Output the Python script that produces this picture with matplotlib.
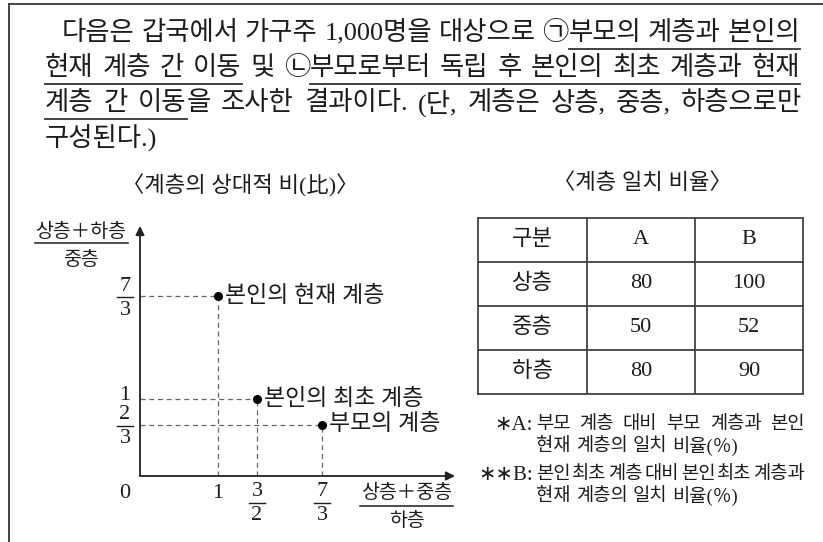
import matplotlib
matplotlib.use("Agg")
import matplotlib.pyplot as plt
from matplotlib.lines import Line2D
from matplotlib.transforms import IdentityTransform

plt.rcParams['font.family'] = ['Liberation Serif', 'Noto Sans CJK KR', 'DejaVu Sans']

# --- data -------------------------------------------------------------
intro_lines = [
    "다음은 갑국에서 가구주 1,000명을 대상으로 ㉠[부모의 계층과 본인의]",
    "[현재 계층 간 이동] 및 ㉡[부모로부터 독립 후 본인의 최초 계층과 현재]",
    "[계층 간 이동]을 조사한 결과이다. (단, 계층은 상층, 중층, 하층으로만",
    "구성된다.)",
]
chart_title = "〈계층의 상대적 비(比)〉"
table_title = "〈계층 일치 비율〉"

point_labels = ["본인의 현재 계층", "본인의 최초 계층", "부모의 계층"]
point_x = [1, 3 / 2, 7 / 3]
point_y = [7 / 3, 1, 2 / 3]
x_tick_labels = ["1", "3/2", "7/3"]
y_tick_labels = ["7/3", "1", "2/3"]
x_axis_label = ("상층＋중층", "하층")
y_axis_label = ("상층＋하층", "중층")

table_header = ["구분", "A", "B"]
table_rows = ["상층", "중층", "하층"]
table_a = [80, 50, 80]
table_b = [100, 52, 90]

notes = [
    ("∗A:", "부모 계층 대비 부모 계층과 본인", "현재 계층의 일치 비율(％)"),
    ("∗∗B:", "본인 최초 계층 대비 본인 최초 계층과", "현재 계층의 일치 비율(％)"),
]

# --- figure -------------------------------------------------------------
W, H = 823, 542
fig = plt.figure(figsize=(W / 100, H / 100), dpi=100)
fig.patch.set_facecolor("white")
renderer = fig.canvas.get_renderer()
IDT = IdentityTransform()
INK = "#1c1c1c"


def P(x, y):
    # top-left pixel -> display coordinates
    return x, H - y


def text(x, y, s, size, ha="center", va="center", **kw):
    return fig.text(*P(x, y), s, fontsize=size, ha=ha, va=va,
                    color=INK, transform=IDT, **kw)


def hline(x0, x1, y, lw=1.0, color=INK, **kw):
    fig.add_artist(Line2D([x0, x1], [H - y, H - y], lw=lw, color=color,
                          transform=IDT, **kw))


def vline(x, y0, y1, lw=1.0, color=INK, **kw):
    fig.add_artist(Line2D([x, x], [H - y0, H - y1], lw=lw, color=color,
                          transform=IDT, **kw))


def parse(line):
    words, on = [], False
    for w in line.split(" "):
        segs, buf = [], ""
        for ch in w:
            if ch in "[]":
                if buf:
                    segs.append((buf, on))
                    buf = ""
                on = ch == "["
            else:
                buf += ch
        if buf:
            segs.append((buf, on))
        words.append(segs)
    return words


def put_line(line, y, x0, x1, size, justify=True, ul_offset=16):
    words = parse(line)
    arts = []
    for segs in words:
        row = []
        for s, ul in segs:
            t = text(0, y, s, size, ha="left")
            row.append((t, t.get_window_extent(renderer).width, ul))
        arts.append(row)
    widths = [sum(w for _, w, _ in row) for row in arts]
    if justify and len(arts) > 1:
        gap = (x1 - x0 - sum(widths)) / (len(arts) - 1)
    else:
        gap = size * 0.35
    x = x0
    runs, cur = [], None
    for row, wd in zip(arts, widths):
        for t, w, ul in row:
            t.set_position(P(x, y))
            if ul:
                if cur is None:
                    cur = [x, x + w]
                else:
                    cur[1] = x + w
            elif cur is not None:
                runs.append(cur)
                cur = None
            x += w
        x += gap
    if cur is not None:
        runs.append(cur)
    for a, b in runs:
        hline(a, b, y + ul_offset, lw=1.3, color="#333333")


def fraction(xc, yc, num, den, size, bar_w):
    text(xc, yc - 11, num, size)
    text(xc, yc + 13, den, size)
    hline(xc - bar_w / 2, xc + bar_w / 2, yc, lw=1.0)


# frame
hline(9, W, 4, lw=1.4, color="#444444")
vline(9, 4, H, lw=1.4, color="#444444")

# intro paragraph
line_y = [33, 68, 103, 138]
put_line(intro_lines[0], line_y[0], 62, 800, 19)
put_line(intro_lines[1], line_y[1], 45, 800, 19)
put_line(intro_lines[2], line_y[2], 45, 802, 19)
put_line(intro_lines[3], line_y[3], 45, 802, 19, justify=False)

text(240, 186, chart_title, 16)
text(642, 184, table_title, 16)

# --- chart ----------------------------------------------------------------
ox, oy = 140, 476
x_end, y_end = 455, 226
ux, uy = 78, 77
ax = fig.add_axes([ox / W, (H - oy) / H, (x_end - ox) / W, (oy - y_end) / H])
ax.set_xlim(0, (x_end - ox) / ux)
ax.set_ylim(0, (oy - y_end) / uy)
ax.axis("off")
ax.annotate("", xy=(1, 0), xytext=(0, 0), xycoords="axes fraction",
            arrowprops=dict(arrowstyle="-|>", color="#222222", lw=1.3,
                            mutation_scale=13, shrinkA=0, shrinkB=0))
ax.annotate("", xy=(0, 1), xytext=(0, 0), xycoords="axes fraction",
            arrowprops=dict(arrowstyle="-|>", color="#222222", lw=1.3,
                            mutation_scale=13, shrinkA=0, shrinkB=0))

for x, y, lab in zip(point_x, point_y, point_labels):
    ax.plot([0, x], [y, y], color="#666666", lw=0.9, dashes=(4, 3))
    ax.plot([x, x], [0, y], color="#666666", lw=0.9, dashes=(4, 3))
    ax.plot(x, y, "o", color="black", ms=5.5, zorder=3)
    ax.annotate(lab, (x, y), xytext=(5, 0), textcoords="offset points",
                fontsize=16.5, va="center", ha="left", color=INK)

fig.canvas.draw()


def to_px(x, y):
    dx, dy = ax.transData.transform((x, y))
    return dx, H - dy


text(125, 493, "0", 16)
for x, lab in zip(point_x, x_tick_labels):
    px_, _ = to_px(x, 0)
    if "/" in lab:
        n, d = lab.split("/")
        fraction(px_, 503, n, d, 16, 16)
    else:
        text(px_, 493, lab, 16)
for y, lab in zip(point_y, y_tick_labels):
    _, py_ = to_px(0, y)
    if "/" in lab:
        n, d = lab.split("/")
        fraction(125, py_ + 1, n, d, 16, 16)
    else:
        text(125, py_ - 3, lab, 16)

# axis labels
text(81, 232, y_axis_label[0], 14)
hline(35, 128, 243, lw=1.1)
text(81, 260, y_axis_label[1], 14)
text(407, 493, x_axis_label[0], 14)
hline(360, 453, 506, lw=1.1)
text(407, 521, x_axis_label[1], 14)

# --- table ------------------------------------------------------------
tx = [478, 587, 695, 803]
ty = [218, 262, 306, 350, 394]
for x in tx:
    vline(x, ty[0], ty[-1], lw=1.3, color="#444444")
for y in ty:
    hline(tx[0], tx[-1], y, lw=1.3, color="#444444")
cx = [(tx[i] + tx[i + 1]) / 2 for i in range(3)]
cy = [(ty[i] + ty[i + 1]) / 2 for i in range(4)]
for c, lab in zip(cx, table_header):
    text(c, cy[0], lab, 16)
for r, (lab, a, b) in enumerate(zip(table_rows, table_a, table_b)):
    text(cx[0], cy[r + 1], lab, 16)
    text(cx[1], cy[r + 1], str(a), 16)
    text(cx[2], cy[r + 1], str(b), 16)

# notes
note_y = [(425, 447), (475, 497)]
for (mark, l1, l2), (y1, y2) in zip(notes, note_y):
    text(533, y1, mark, 15, ha="right")
    put_line(l1, y1, 536, 805, 13.5)
    put_line(l2, y2, 536, 738, 13.5)

fig.savefig("out.png", dpi=100, facecolor="white")
